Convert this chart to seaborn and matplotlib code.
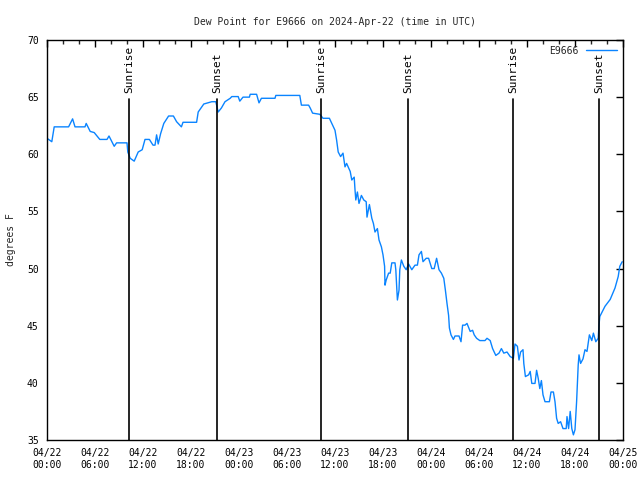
import numpy as np
import pandas as pd
import matplotlib
matplotlib.use("Agg")
import matplotlib.pyplot as plt
import matplotlib.dates as mdates
import seaborn as sns

# ---- data (hours since 2024-04-22 00:00 UTC, dew point degF) ----
hours = [0.0, 0.6, 0.9, 2.7, 3.2, 3.5, 4.75, 4.9, 5.4, 5.9, 6.6, 7.5, 7.75, 8.4, 8.7,
         10.0, 10.1, 10.4, 10.9, 11.4, 11.9, 12.25, 12.8, 13.25, 13.5, 13.7, 13.9, 14.2,
         14.6, 15.2, 15.8, 16.2, 16.8, 17.0, 18.7, 18.9, 19.6, 20.6, 21.1, 21.4, 21.8,
         22.25, 22.9, 23.1, 23.9, 24.1, 24.5, 25.3, 25.4, 26.2, 26.5, 26.8, 28.5, 28.6,
         31.6, 31.8, 32.7, 32.9, 33.2, 34.1, 34.5, 35.3, 35.6, 36.0, 36.2, 36.4, 36.7,
         37.0, 37.25, 37.45, 37.9, 38.1, 38.4, 38.5, 38.6, 38.8, 39.0, 39.3, 39.6, 39.9,
         40.0, 40.3, 40.6, 40.8, 41.0, 41.3, 41.5, 41.8, 42.0, 42.2, 42.25, 42.4, 42.7,
         42.9, 43.1, 43.5, 43.6, 43.8, 44.0, 44.1, 44.3, 44.6, 44.9, 45.2, 45.6, 46.0,
         46.3, 46.5, 46.8, 47.0, 47.4, 47.7, 48.1, 48.4, 48.7, 49.0, 49.3, 49.6, 49.8,
         50.0, 50.2, 50.3, 50.5, 50.8, 51.0, 51.5, 51.75, 51.95, 52.25, 52.5, 52.9, 53.2,
         53.4, 53.7, 54.1, 54.75, 55.0, 55.4, 55.7, 56.1, 56.5, 56.8, 57.1, 57.5, 57.9,
         58.3, 58.5, 58.8, 59.0, 59.2, 59.5, 59.6, 59.8, 60.2, 60.4, 60.6, 61.0, 61.2,
         61.4, 61.6, 61.8, 62.0, 62.25, 62.8, 63.0, 63.3, 63.5, 63.7, 63.9, 64.2, 64.5,
         64.9, 65.0, 65.2, 65.4, 65.6, 65.8, 66.0, 66.2, 66.4, 66.5, 66.7, 67.0, 67.25,
         67.5, 67.8, 68.1, 68.3, 68.6, 68.9, 69.0, 69.1, 69.75, 70.4, 71.0, 71.4, 71.6, 71.9]
dewpoint = [61.4, 61.1, 62.4, 62.4, 63.1, 62.4, 62.4, 62.7, 62.0, 61.9, 61.3, 61.3, 61.6, 60.7, 61.0,
            61.0, 60.2, 59.65, 59.4, 60.2, 60.4, 61.3, 61.3, 60.8, 60.8, 61.7, 60.9, 61.8,
            62.7, 63.35, 63.35, 62.85, 62.4, 62.8, 62.8, 63.7, 64.4, 64.6, 64.6, 63.7, 64.05,
            64.6, 64.9, 65.05, 65.05, 64.65, 65.0, 65.0, 65.25, 65.25, 64.5, 64.9, 64.9, 65.15,
            65.15, 64.3, 64.3, 64.05, 63.6, 63.5, 63.15, 63.15, 62.7, 62.1, 61.25, 60.2, 59.8,
            60.1, 58.9, 59.2, 58.5, 57.75, 58.0, 56.9, 56.0, 56.7, 55.7, 56.4, 56.0, 55.85,
            54.5, 55.6, 54.4, 53.95, 53.2, 53.5, 52.5, 51.9, 51.2, 50.2, 48.55, 49.0, 49.6,
            49.6, 50.5, 50.5, 49.9, 47.25, 48.1, 49.9, 50.75, 50.2, 49.9, 50.4, 49.9, 50.3,
            50.3, 51.2, 51.5, 50.6, 50.9, 50.9, 50.0, 50.0, 50.9, 49.9, 49.6, 49.15, 48.1,
            46.95, 45.9, 44.8, 44.2, 43.8, 44.1, 44.1, 43.6, 45.05, 45.05, 45.2, 44.5, 44.6,
            44.2, 43.9, 43.7, 43.7, 43.9, 43.7, 43.0, 42.4, 42.6, 43.0, 42.6, 42.7, 42.3,
            42.15, 43.4, 43.2, 42.0, 42.7, 42.9, 41.7, 40.55, 40.7, 41.0, 39.95, 39.95, 41.1,
            40.4, 39.5, 40.2, 38.95, 38.35, 38.35, 39.2, 39.2, 38.35, 36.9, 36.45, 36.6, 36.0,
            36.0, 37.05, 36.0, 37.5, 36.0, 35.45, 35.9, 38.35, 41.55, 42.45, 41.7, 42.1, 42.9,
            42.75, 44.2, 43.7, 44.35, 43.6, 43.9, 45.05, 45.8, 46.7, 47.3, 48.3, 49.3, 50.2, 50.6]

event_labels = ["Sunrise", "Sunset", "Sunrise", "Sunset", "Sunrise", "Sunset"]
event_hours = [10.25, 21.25, 34.25, 45.1, 58.25, 69.0]

station = "E9666"
title = "Dew Point for E9666 on 2024-Apr-22 (time in UTC)"
ylabel = "degrees F"

start = pd.Timestamp("2024-04-22 00:00")
df = pd.DataFrame({
    "time": start + pd.to_timedelta(hours, unit="h"),
    "dewpoint": dewpoint,
})

sns.set_style("white")
plt.rcParams["font.family"] = ["DejaVu Sans Mono", "DejaVu Sans"]
plt.rcParams["font.size"] = 7

fig = plt.figure(figsize=(6.4, 4.8), dpi=100)
ax = fig.add_axes([47/640, 40/480, 576/640, 400/480])

sns.lineplot(data=df, x="time", y="dewpoint", ax=ax, color="#0a84ff",
             linewidth=1.0, label=station)

for lab, h in zip(event_labels, event_hours):
    t = start + pd.Timedelta(hours=h)
    ax.axvline(t, ymin=0, ymax=0.8525, color="black", linewidth=1.2)
    ax.text(t, 0.8675, lab, transform=ax.get_xaxis_transform(), rotation=90,
            ha="center", va="bottom", fontsize=8, color="black")

ax.set_xlim(start, start + pd.Timedelta(hours=72))
ax.set_ylim(35, 70)
ax.set_yticks(np.arange(35, 71, 5))
ax.xaxis.set_major_locator(mdates.HourLocator(byhour=[0, 6, 12, 18]))
ax.xaxis.set_minor_locator(mdates.HourLocator(byhour=range(0, 24, 2)))
ax.xaxis.set_major_formatter(mdates.DateFormatter("%m/%d\n%H:%M"))

ax.tick_params(axis="both", which="major", direction="in", length=5, width=1,
               top=True, right=True, labelsize=7, pad=6, colors="black")
ax.tick_params(axis="both", which="minor", direction="in", length=3, width=1,
               top=True, right=True)
for sp in ax.spines.values():
    sp.set_color("black")
    sp.set_linewidth(1)

ax.set_xlabel("")
ax.set_ylabel(ylabel, fontsize=7, labelpad=8)
ax.set_title(title, fontsize=7, pad=11)

leg = ax.legend(loc="upper right", frameon=False, fontsize=7, handlelength=3.2,
                borderaxespad=0.2, markerfirst=False)

fig.savefig("out.png", dpi=100)
